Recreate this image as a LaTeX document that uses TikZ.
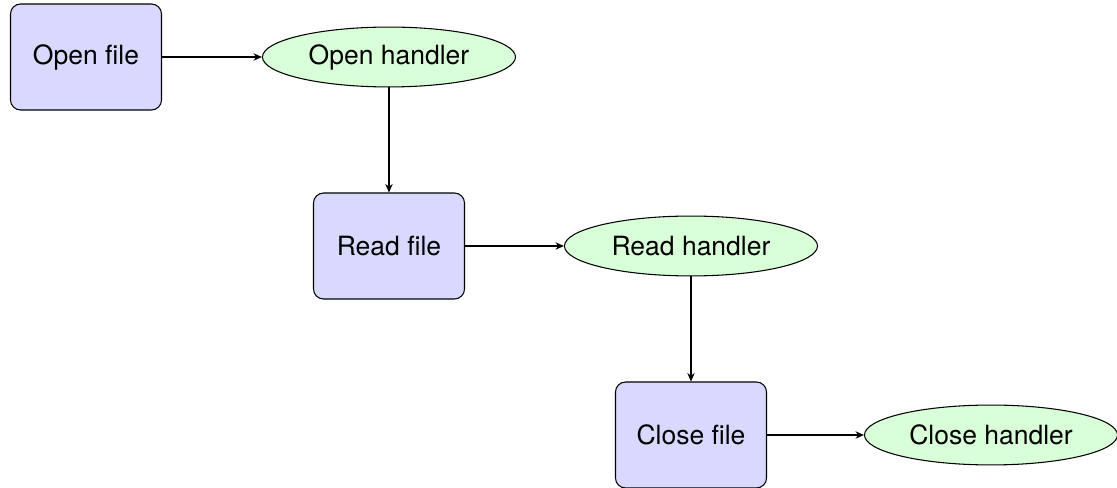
\documentclass[tikz,border=0pt]{standalone}
\usepackage{fontspec}
\setmainfont{TeX Gyre Heros}
\usetikzlibrary{shapes.geometric,arrows.meta}
\begin{document}
\begin{tikzpicture}[x=0.3774pt,y=-0.3774pt,
  filebox/.style={draw, rounded corners=3.8pt, fill=blue!15, minimum width=57pt, minimum height=40pt, inner sep=0pt},
  handler/.style={draw, ellipse, fill=green!15, minimum width=95.5pt, minimum height=22.6pt, inner sep=0pt},
  conn/.style={-{Stealth[length=3.2pt,width=2.8pt]}}]
\useasboundingbox (0,0) rectangle (1117,488);
\node[filebox] (of) at (86,57) {Open file};
\node[handler] (oh) at (389,57) {Open handler};
\node[filebox] (rf) at (389,246) {Read file};
\node[handler] (rh) at (691,246) {Read handler};
\node[filebox] (cf) at (691,435) {Close file};
\node[handler] (ch) at (991,435) {Close handler};
\draw[conn] (of) -- (oh);
\draw[conn] (oh) -- (rf);
\draw[conn] (rf) -- (rh);
\draw[conn] (rh) -- (cf);
\draw[conn] (cf) -- (ch);
\end{tikzpicture}
\end{document}
